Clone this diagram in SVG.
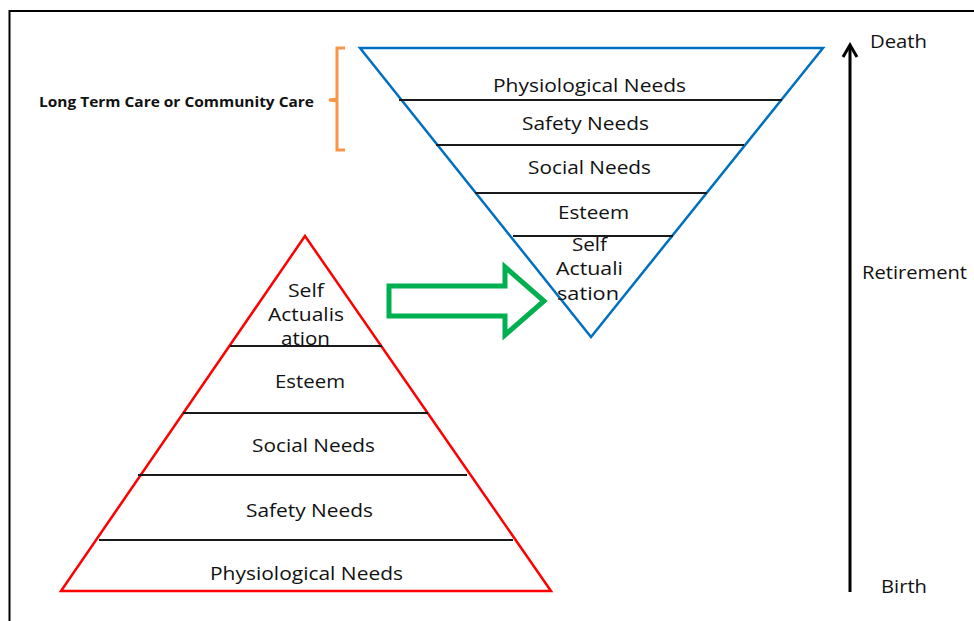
<svg xmlns="http://www.w3.org/2000/svg" width="974" height="621" viewBox="0 0 974 621">
<style>
text{font-family:"Open Sans","DejaVu Sans",sans-serif;font-size:18px;fill:#111;}
.b{font-weight:bold;font-size:13.5px;}
.lvl{stroke:#1a1a1a;stroke-width:1.8;}
.conn{fill:none;stroke:#000;stroke-width:3;}
</style>
<rect width="974" height="621" fill="#fff"/>
<path d="M9.5,640 L9.5,11 L990,11" fill="none" stroke="#000" stroke-width="2"/>

<g id="ltc-label">
<text class="b" x="39" y="107" textLength="275" lengthAdjust="spacingAndGlyphs">Long Term Care or Community Care</text>
</g>
<g id="bracket">
<path d="M345,48 L337,48 L337,99 L329,100 L337,101 L337,150 L345,150" fill="none" stroke="#f79646" stroke-width="3"/>
</g>

<g id="inverted-pyramid">
<polygon points="360,48 823,48 591,337" fill="none" stroke="#0070c0" stroke-width="2.5"/>
<line class="lvl" x1="399" y1="100" x2="782" y2="100"/>
<line class="lvl" x1="436" y1="145" x2="744" y2="145"/>
<line class="lvl" x1="475" y1="193" x2="707" y2="193"/>
<line class="lvl" x1="513" y1="236" x2="673" y2="236"/>
<text x="493" y="92" textLength="193" lengthAdjust="spacingAndGlyphs">Physiological Needs</text>
<text x="522" y="130" textLength="127" lengthAdjust="spacingAndGlyphs">Safety Needs</text>
<text x="528" y="174" textLength="123" lengthAdjust="spacingAndGlyphs">Social Needs</text>
<text x="558" y="219" textLength="71" lengthAdjust="spacingAndGlyphs">Esteem</text>
<text x="572" y="251" textLength="35" lengthAdjust="spacingAndGlyphs">Self</text>
<text x="556" y="275" textLength="67" lengthAdjust="spacingAndGlyphs">Actuali</text>
<text x="557" y="300" textLength="62" lengthAdjust="spacingAndGlyphs">sation</text>
</g>

<g id="pyramid">
<polygon points="305,236 551,591 61,591" fill="none" stroke="#ff0000" stroke-width="2.5"/>
<line class="lvl" x1="230" y1="346" x2="382" y2="346"/>
<line class="lvl" x1="183" y1="413" x2="428" y2="413"/>
<line class="lvl" x1="138" y1="475" x2="467" y2="475"/>
<line class="lvl" x1="99" y1="540" x2="513" y2="540"/>
<text x="288" y="297" textLength="36" lengthAdjust="spacingAndGlyphs">Self</text>
<text x="268" y="321" textLength="76" lengthAdjust="spacingAndGlyphs">Actualis</text>
<text x="281" y="345" textLength="49" lengthAdjust="spacingAndGlyphs">ation</text>
<text x="275" y="388" textLength="70" lengthAdjust="spacingAndGlyphs">Esteem</text>
<text x="252" y="452" textLength="123" lengthAdjust="spacingAndGlyphs">Social Needs</text>
<text x="246" y="517" textLength="127" lengthAdjust="spacingAndGlyphs">Safety Needs</text>
<text x="210" y="580" textLength="193" lengthAdjust="spacingAndGlyphs">Physiological Needs</text>
</g>

<g id="green-arrow">
<polygon points="389,286 505,286 505,267 544,301 505,335 505,316 389,316" fill="none" stroke="#00b050" stroke-width="5"/>
</g>

<g id="connectors">
<line class="conn" x1="850" y1="592" x2="850" y2="45"/>
<path class="conn" d="M843,57 L850,45 L857,57"/>
</g>

<g id="timeline-labels">
<text x="870" y="48" textLength="57" lengthAdjust="spacingAndGlyphs">Death</text>
<text x="862" y="279" textLength="105" lengthAdjust="spacingAndGlyphs">Retirement</text>
<text x="881" y="593" textLength="46" lengthAdjust="spacingAndGlyphs">Birth</text>
</g>
</svg>
